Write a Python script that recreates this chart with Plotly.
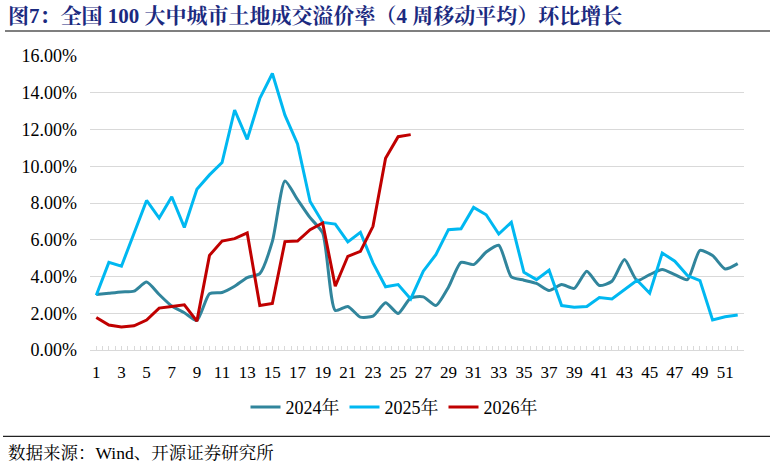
import plotly.graph_objects as go

weeks = list(range(1, 53))

y2024 = [3.02, 3.09, 3.16, 3.20, 3.70, 3.02, 2.39, 2.03, 1.61, 3.06,
         3.13, 3.47, 3.94, 4.16, 5.91, 9.20, 8.19, 7.20, 6.37, 2.15,
         2.37, 1.79, 1.84, 2.57, 1.99, 2.84, 2.89, 2.42, 3.42, 4.77,
         4.65, 5.33, 5.70, 3.98, 3.80, 3.62, 3.24, 3.56, 3.35, 4.29,
         3.51, 3.74, 4.92, 3.78, 4.10, 4.38, 4.10, 3.83, 5.42, 5.14,
         4.41, 4.70]

y2025 = [2.98, 4.77, 4.56, 6.37, 8.14, 7.18, 8.34, 6.67, 8.75, 9.53,
         10.20, 13.06, 11.46, 13.69, 15.05, 12.78, 11.21, 8.08, 6.94, 6.85,
         5.88, 6.40, 4.74, 3.44, 3.56, 2.78, 4.29, 5.19, 6.55, 6.60,
         7.76, 7.36, 6.31, 6.95, 4.23, 3.83, 4.34, 2.42, 2.33, 2.37,
         2.86, 2.78, 3.29, 3.80, 3.09, 5.28, 4.83, 4.05, 3.78, 1.63,
         1.81, 1.90]

y2026 = [1.77, 1.36, 1.25, 1.32, 1.63, 2.28, 2.37, 2.46, 1.57, 5.15,
         5.93, 6.06, 6.37, 2.42, 2.53, 5.90, 5.93, 6.55, 6.91, 3.47,
         5.10, 5.37, 6.73, 10.43, 11.61, 11.72]

series_names = ["2024年", "2025年", "2026年"]
colors = ["#31859C", "#00B8F1", "#C00000"]

tick_vals = list(range(1, 53, 2))
tick_text = [str(v) for v in tick_vals]
y_ticks = [0, 2, 4, 6, 8, 10, 12, 14, 16]
y_text = [f"{v:.2f}%" for v in y_ticks]

title_text = "图7：全国 100 大中城市土地成交溢价率（4 周移动平均）环比增长"
source_text = "数据来源：Wind、开源证券研究所"

SERIF = "Liberation Serif, Times New Roman, Noto Serif CJK SC, Noto Sans CJK SC, serif"

fig = go.Figure()
fig.add_trace(go.Scatter(x=weeks, y=y2024, name=series_names[0], mode="lines",
                         line=dict(color=colors[0], width=3, shape="spline", smoothing=0.6)))
fig.add_trace(go.Scatter(x=weeks, y=y2025, name=series_names[1], mode="lines",
                         line=dict(color=colors[1], width=3)))
fig.add_trace(go.Scatter(x=weeks[:len(y2026)], y=y2026, name=series_names[2], mode="lines",
                         line=dict(color=colors[2], width=3)))

L, R, T, B = 90, 30, 56, 116.5
W, H = 774, 467
pw = W - L - R
ph = H - T - B

def px(x):
    return (x - L) / pw

def py(y):
    return (H - B - y) / ph

fig.update_layout(
    width=W, height=H,
    margin=dict(l=L, r=R, t=T, b=B, pad=0),
    paper_bgcolor="white", plot_bgcolor="white",
    font=dict(family=SERIF, size=16, color="#000000"),
    showlegend=True,
    legend=dict(orientation="h", x=px(394), xanchor="center", y=py(408), yanchor="middle",
                font=dict(family=SERIF, size=18, color="#000000"),
                itemwidth=30, tracegroupgap=0, bgcolor="rgba(0,0,0,0)"),
    xaxis=dict(range=[0.5, 52.5], tickmode="array", tickvals=tick_vals, ticktext=tick_text,
               showgrid=False, zeroline=False, showline=True, linecolor="#D9D9D9", linewidth=1,
               ticks="inside", ticklen=4, tickcolor="#D9D9D9", tickwidth=1,
               minor=dict(tick0=0.5, dtick=0.5, ticks="inside", ticklen=4, tickcolor="#D9D9D9",
                          tickwidth=1, showgrid=False),
               tickfont=dict(family=SERIF, size=17, color="#000000"), ticklabelstandoff=7),
    yaxis=dict(range=[0, 16], tickmode="array", tickvals=y_ticks, ticktext=y_text,
               showgrid=True, gridcolor="#D9D9D9", gridwidth=1, zeroline=False, showline=False,
               ticks="", tickfont=dict(family=SERIF, size=18, color="#000000"), ticklabelstandoff=12),
)

fig.add_annotation(text="<b>" + title_text + "</b>", xref="paper", yref="paper",
                   x=px(6), y=py(16), xanchor="left", yanchor="middle", showarrow=False,
                   font=dict(family=SERIF, size=21, color="#1B2A80"))
fig.add_annotation(text=source_text, xref="paper", yref="paper",
                   x=px(6), y=py(454), xanchor="left", yanchor="middle", showarrow=False,
                   font=dict(family=SERIF, size=17.5, color="#000000"))

fig.add_shape(type="line", xref="paper", yref="paper", x0=px(5), x1=px(770), y0=py(31), y1=py(31),
              line=dict(color="#555555", width=1.5))
fig.add_shape(type="line", xref="paper", yref="paper", x0=px(3), x1=px(770), y0=py(437), y1=py(437),
              line=dict(color="#222222", width=1.2))

fig.write_html("out.html")
